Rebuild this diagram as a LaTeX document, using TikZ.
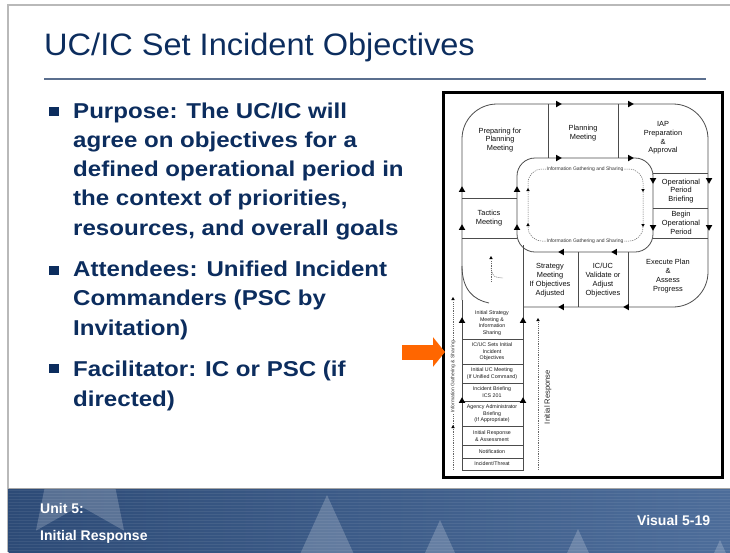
\documentclass[tikz,border=0pt]{standalone}
\usepackage{fontspec}
\setmainfont{Liberation Sans}
\newfontfamily\titlefont[FakeStretch=1.05]{Liberation Sans}
\newfontfamily\bulletfont[FakeStretch=1.12]{Liberation Sans}
\usetikzlibrary{shapes.geometric, arrows.meta}
\definecolor{navy}{HTML}{0C2D5E}
\definecolor{rulegray}{HTML}{5B6F8E}
\definecolor{pointorange}{HTML}{FF6600}
\definecolor{footdark}{HTML}{2D4B77}
\definecolor{footlight}{HTML}{4D6D9A}
\tikzstyle{bullet} = [anchor=base west, align=left, inner sep=0pt, text=navy, font=\bulletfont\bfseries\fontsize{21.5}{29.2}\selectfont]
\tikzstyle{sq} = [fill=navy, minimum width=10pt, minimum height=9pt, inner sep=0pt]
\tikzstyle{lbl} = [align=center, inner sep=0pt, text=black!95, font=\fontsize{7.4}{8.8}\selectfont]
\tikzstyle{stemlbl} = [align=center, inner sep=0pt, text=black!90, font=\fontsize{5.3}{6.6}\selectfont]
\tikzstyle{infolbl} = [inner sep=1pt, fill=white, text=black!80, font=\fontsize{5}{6}\selectfont]
\tikzstyle{tri} = [regular polygon, regular polygon sides=3, fill=black, inner sep=0pt, minimum size=7.5pt]
\tikzstyle{minitri} = [tri, minimum size=4pt]
\tikzstyle{loopline} = [draw=black!70, line width=0.8pt]
\tikzstyle{info} = [draw=black!60, line width=0.5pt, dash pattern=on 1.2pt off 1pt]
\tikzstyle{pointer} = [draw=pointorange, line width=15pt, -{Triangle[length=12pt,width=29pt]}]
\tikzstyle{foot} = [anchor=base west, inner sep=0pt, text=white, font=\bfseries\fontsize{14}{16}\selectfont]
\tikzstyle{faintstar} = [star, star points=5, star point ratio=2.1, fill=white, opacity=0.2, inner sep=0pt]

\begin{document}
\begin{tikzpicture}[x=1pt, y=-1pt]
\useasboundingbox (0,0) rectangle (730,552);
\draw[gray!55, line width=1.2pt] (8,552) -- (8,5) -- (730,5);

\node (title) [anchor=base west, inner sep=0pt, text=navy, font=\titlefont\fontsize{31}{36}\selectfont] at (44,55) {UC/IC Set Incident Objectives};
\draw[rulegray, line width=2pt] (44,79) -- (706,79);

% bullets (anchored on the last line)
\node (sq1) [sq] at (53.5,111.5) {};
\node (purpose) [bullet] at (73,235) {Purpose: The UC/IC will\\agree on objectives for a\\defined operational period in\\the context of priorities,\\resources, and overall goals};
\node (sq2) [sq] at (53.5,270) {};
\node (attendees) [bullet] at (73,335) {Attendees: Unified Incident\\Commanders (PSC by\\Invitation)};
\node (sq3) [sq] at (53.5,368) {};
\node (facilitator) [bullet] at (73,406) {Facilitator: IC or PSC (if\\directed)};

\draw[line width=3pt] (443.5,92.5) rectangle (722.5,477);

% outer loop and stem
\draw[loopline] (523,245) -- (523,470) -- (462,470) -- (462,300);
\draw[loopline, rounded corners=35pt] (462,300) -- (462,104) -- (708,104) -- (708,307) -- (523,307);
\draw[loopline, rounded corners=18pt] (517,158) rectangle (653,252);
\draw[loopline] (548,104) -- (548,158);
\draw[loopline] (618,104) -- (618,158);
\draw[loopline] (653,173) -- (708,173);
\draw[loopline] (653,208) -- (708,208);
\draw[loopline] (653,238) -- (708,238);
\draw[loopline] (462,198) -- (517,198);
\draw[loopline] (462,238) -- (517,238);
\draw[loopline] (578,252) -- (578,307);
\draw[loopline] (628,252) -- (628,307);
\foreach \y in {339,364,383,401,426,445,458}
  \draw[loopline] (462,\y) -- (523,\y);
\draw[loopline] (462,266) .. controls (462,290) and (474,300) .. (489,303);

\node (prep) [lbl] at (500,140) {Preparing for\\Planning\\Meeting};
\node (planmtg) [lbl] at (583,133) {Planning\\Meeting};
\node (iap) [lbl] at (663,138) {IAP\\Preparation\\\&\\Approval};
\node (opbrief) [lbl] at (681,191) {Operational\\Period\\Briefing};
\node (beginop) [lbl] at (681,223) {Begin\\Operational\\Period};
\node (tactics) [lbl] at (489,218) {Tactics\\Meeting};
\node (strategy) [lbl] at (550,280) {Strategy\\Meeting\\If Objectives\\Adjusted};
\node (validate) [lbl] at (603,280) {IC/UC\\Validate or\\Adjust\\Objectives};
\node (execute) [lbl] at (668,276) {Execute Plan\\\&\\Assess\\Progress};

\node (initstrat) [stemlbl] at (492,323) {Initial Strategy\\Meeting \&\\Information\\Sharing};
\node (setobj) [stemlbl] at (492,352) {IC/UC Sets Initial\\Incident\\Objectives};
\node (initucm) [stemlbl] at (492,373.5) {Initial UC Meeting\\(If Unified Command)};
\node (incbrief) [stemlbl] at (492,392) {Incident Briefing\\ICS 201};
\node (agency) [stemlbl] at (492,414) {Agency Administrator\\Briefing\\(If Appropriate)};
\node (initresp) [stemlbl] at (492,436) {Initial Response\\\& Assessment};
\node (notif) [stemlbl] at (492,451.5) {Notification};
\node (incident) [stemlbl] at (492,464) {Incident/Threat};

\node [tri, rotate=-90] at (558,104) {};
\node [tri, rotate=-90] at (630,104) {};
\node [tri, rotate=-90] at (558,158) {};
\node [tri, rotate=-90] at (630,158) {};
\node [tri, rotate=180] at (653,180) {};
\node [tri, rotate=180] at (709,180) {};
\node [tri, rotate=180] at (653,227) {};
\node [tri, rotate=180] at (709,227) {};
\node [tri, rotate=90] at (562,252) {};
\node [tri, rotate=90] at (615,252) {};
\node [tri, rotate=90] at (562,307) {};
\node [tri, rotate=90] at (627,307) {};
\node [tri] at (462,190) {};
\node [tri] at (517,190) {};
\node [tri] at (462,228) {};
\node [tri] at (517,228) {};
\node [tri] at (462,321) {};
\node [tri] at (523,321) {};
\node [tri] at (462,401) {};
\node [tri] at (523,401) {};

% information gathering
\draw[info, rounded corners=14pt] (528,169) rectangle (643,241);
\node (infotop) [infolbl] at (585,169) {Information Gathering and Sharing};
\node (infobot) [infolbl] at (585,241) {Information Gathering and Sharing};
\node [minitri] at (528,190) {};
\node [minitri] at (528,225) {};
\node [minitri, rotate=180] at (643,190) {};
\node [minitri, rotate=180] at (643,225) {};
\draw[info] (491,282) -- (491,260);
\draw[info] (491,268) .. controls (493,277) .. (503,278);
\node [minitri] at (491,258) {};
\draw[info] (453,470) -- (453,301);
\node [minitri] at (453,299) {};
\node [minitri] at (453,427) {};
\node (infoside) [infolbl, rotate=90, fill=white] at (453,377) {Information Gathering \& Sharing};
\draw[info] (538,470) -- (538,322);
\node [minitri] at (538,320) {};
\node (initresplbl) [inner sep=0pt, rotate=90, text=black!85, font=\fontsize{7.6}{9}\selectfont] at (548,397) {Initial Response};

\coordinate (ptrtail) at (402,352);
\coordinate (ptrtip) at (445,352);
\draw [pointer] (ptrtail) -- (ptrtip);

% footer band
\begin{scope}
\clip (8.6,488) rectangle (730,552);
\shade[left color=footdark, right color=footlight] (8,488) rectangle (730,552);
\foreach \y in {490,493,...,551}
  \draw[white, opacity=0.07, line width=1pt] (8,\y) -- (730,\y);
\node [faintstar, minimum size=210pt] at (327,600) {};
\node [faintstar, minimum size=110pt] at (440,575) {};
\node [faintstar, minimum size=110pt] at (578,584) {};
\node [faintstar, minimum size=110pt] at (720,595) {};
\node [faintstar, minimum size=150pt] at (80,470) {};
\end{scope}
\draw[gray!70, line width=1pt] (8,488) -- (730,488);
\node (unit) [foot] at (40,513) {Unit 5:};
\node (unitname) [foot] at (40,540) {Initial Response};
\node (visual) [foot] at (637,525) {Visual 5-19};
\end{tikzpicture}
\end{document}
